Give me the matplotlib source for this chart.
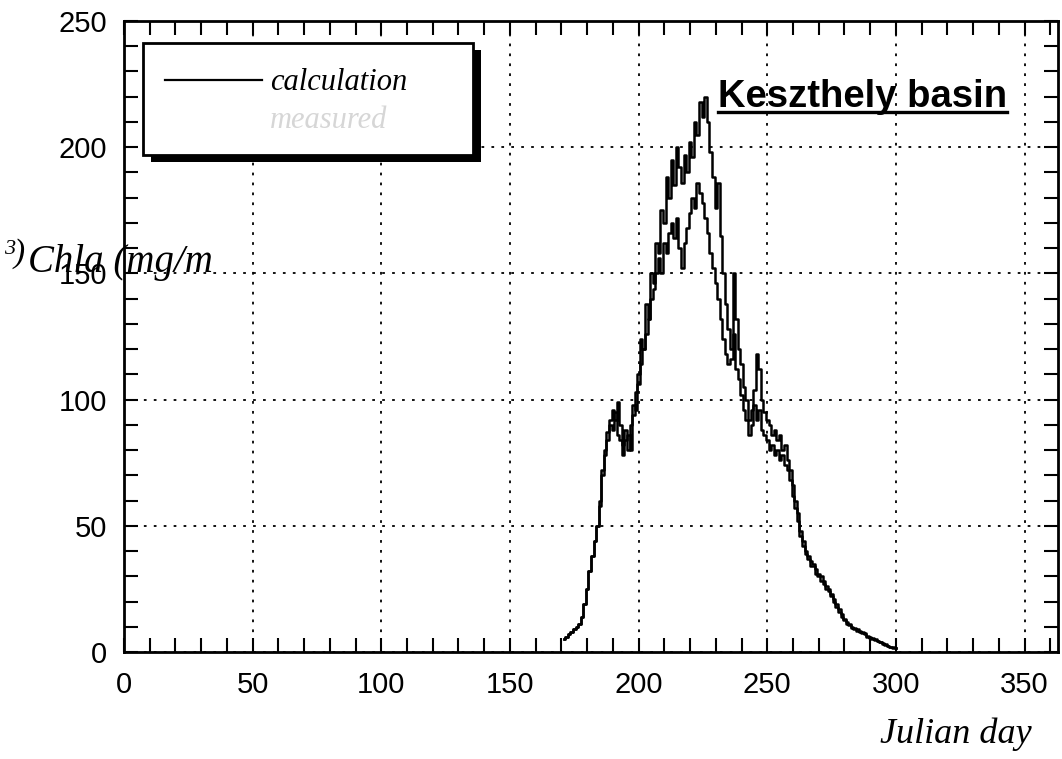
#!/usr/bin/env python3
"""Chlorophyll-a in the Keszthely basin: calculated vs measured over the season."""

import matplotlib
matplotlib.use("Agg")
import matplotlib.pyplot as plt
from matplotlib.lines import Line2D
from matplotlib.patches import Rectangle
from matplotlib.ticker import MultipleLocator

W, H = 1062, 759

# daily values (Julian day 171..300)
days = list(range(171, 301))

chla_upper = [
    5, 6, 7, 8, 9, 10, 11, 14, 19, 25,
    32, 38, 44, 50, 60, 72, 80, 87, 92, 96,
    92, 99, 90, 82, 88, 80, 90, 94, 103, 110,
    124, 120, 138, 132, 150, 146, 162, 158, 175, 170,
    188, 180, 195, 185, 200, 192, 186, 197, 190, 202,
    196, 210, 205, 218, 212, 220, 210, 198, 188, 176,
    186, 165, 150, 138, 128, 120, 150, 132, 120, 114,
    105, 100, 92, 96, 104, 118, 112, 100, 95, 92,
    90, 86, 88, 84, 86, 80, 82, 76, 72, 66,
    60, 55, 48, 44, 40, 38, 36, 35, 33, 31,
    30, 28, 26, 25, 23, 21, 19, 17, 15, 13,
    12, 11, 10, 9.5, 9, 8.5, 8, 7.5, 6.5, 6,
    5.5, 5, 4.5, 4, 3.5, 3, 2.5, 2, 1.8, 1.5,
]

chla_lower = [
    5, 6, 7, 8, 9, 10, 11, 14, 19, 25,
    32, 38, 44, 50, 58, 70, 78, 84, 90, 88,
    95, 86, 84, 78, 84, 86, 80, 98, 96, 106,
    114, 120, 126, 132, 140, 144, 150, 156, 150, 162,
    158, 166, 170, 164, 172, 160, 152, 162, 168, 174,
    180, 176, 186, 182, 178, 172, 166, 158, 152, 146,
    140, 132, 124, 118, 114, 116, 126, 112, 108, 102,
    96, 92, 86, 90, 98, 92, 96, 88, 86, 84,
    80, 82, 78, 80, 76, 78, 74, 72, 68, 62,
    57, 52, 46, 42, 39, 37, 34, 34, 31, 30,
    28, 27, 25, 24, 22, 20, 18, 16, 14, 12.5,
    11, 10.5, 9.5, 9, 8.5, 8, 7.5, 7, 6, 5.5,
    5, 4.8, 4.2, 3.8, 3.2, 2.8, 2.3, 1.9, 1.6, 1.4,
]

x_ticks = [0, 50, 100, 150, 200, 250, 300, 350]
y_ticks = [0, 50, 100, 150, 200, 250]

SANS = "Liberation Sans"
SERIF = "Liberation Serif"


def fx(px):
    return px / W


def fy(py):
    return 1 - py / H


def main() -> None:
    fig = plt.figure(figsize=(W / 100, H / 100), dpi=100)
    ax = fig.add_axes([fx(124), fy(652), fx(1058) - fx(124), fy(21) - fy(652)])

    ax.plot(days, chla_upper, color="black", lw=1.8, drawstyle="steps-mid")
    ax.plot(days, chla_lower, color="black", lw=1.8, drawstyle="steps-mid")

    ax.set_xlim(0, 363)
    ax.set_ylim(0, 250)
    ax.set_xticks(x_ticks)
    ax.set_yticks(y_ticks)
    ax.xaxis.set_minor_locator(MultipleLocator(10))
    ax.yaxis.set_minor_locator(MultipleLocator(10))
    ax.tick_params(which="both", direction="in", top=True, right=True,
                   length=10, width=1.5, color="black")
    ax.tick_params(axis="x", pad=14, labelsize=21)
    ax.tick_params(axis="y", pad=12, labelsize=21)
    for lab in ax.get_xticklabels() + ax.get_yticklabels():
        lab.set_fontfamily(SANS)
    for sp in ax.spines.values():
        sp.set_linewidth(2)
    ax.grid(True, which="major", color="black", linestyle=(0, (1.5, 4)), lw=1.3)

    # axis titles
    fig.text(fx(1032), fy(743), "Julian day", ha="right", va="baseline",
             family=SERIF, style="italic", fontsize=26)
    fig.text(fx(28), fy(272), "Chla (mg/m", ha="left", va="baseline",
             family=SERIF, style="italic", fontsize=28)
    fig.text(fx(4), fy(254), "3", ha="left", va="baseline",
             family=SERIF, style="italic", fontsize=16)
    fig.text(fx(14), fy(262), ")", ha="left", va="baseline",
             family=SERIF, style="italic", fontsize=24)

    # basin label, underlined
    t = fig.text(fx(718), fy(107), "Keszthely basin", ha="left", va="baseline",
                 family=SANS, fontweight="bold", fontsize=27.5)
    fig.canvas.draw()
    bb = t.get_window_extent().transformed(fig.transFigure.inverted())
    fig.add_artist(Line2D([bb.x0, bb.x1], [fy(112), fy(112)],
                          transform=fig.transFigure, color="black", lw=2.4))

    # legend box with heavy shadow
    fig.add_artist(Rectangle((fx(151), fy(162)), fx(473) - fx(143), fy(43) - fy(155),
                             transform=fig.transFigure, facecolor="black",
                             edgecolor="none", zorder=5))
    fig.add_artist(Rectangle((fx(143), fy(155)), fx(473) - fx(143), fy(43) - fy(155),
                             transform=fig.transFigure, facecolor="white",
                             edgecolor="black", lw=2, zorder=6))
    fig.add_artist(Line2D([fx(165), fx(262)], [fy(80), fy(80)],
                          transform=fig.transFigure, color="black", lw=1.6, zorder=7))
    fig.text(fx(270), fy(90), "calculation", ha="left", va="baseline",
             family=SERIF, style="italic", fontsize=22, zorder=7)
    fig.text(fx(270), fy(128), "measured", ha="left", va="baseline",
             family=SERIF, style="italic", fontsize=22, color="#d6d6d6", zorder=7)

    fig.savefig("out.png", dpi=100)
    plt.close(fig)


if __name__ == "__main__":
    main()
